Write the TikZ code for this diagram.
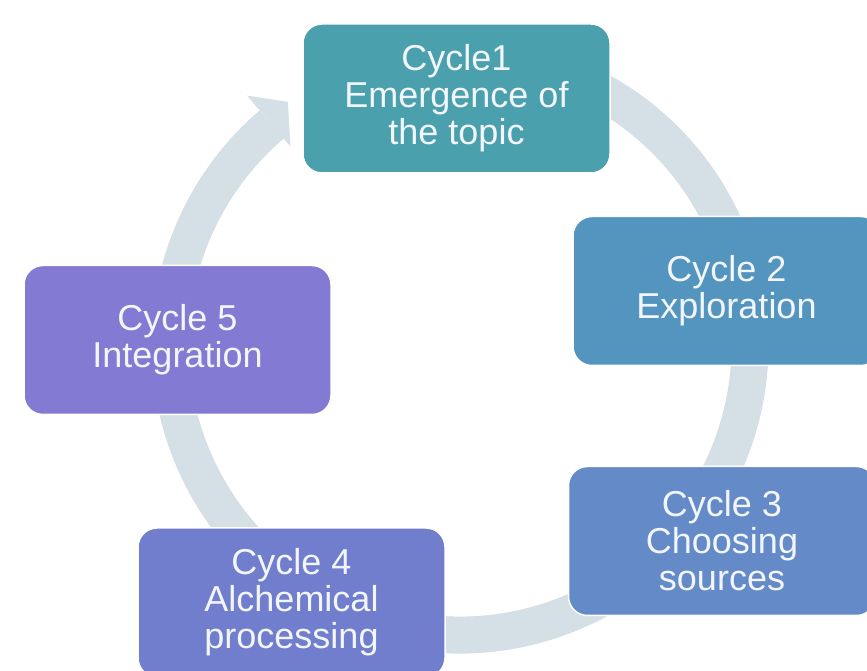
\documentclass[tikz,border=0pt]{standalone}
\usepackage{fontspec}
\setmainfont{Liberation Sans}
\usetikzlibrary{calc}
\definecolor{ringcol}{RGB}{212,224,229}
\definecolor{cA}{RGB}{75,160,173}
\definecolor{cB}{RGB}{83,149,191}
\definecolor{cC}{RGB}{100,138,200}
\definecolor{cD}{RGB}{112,126,205}
\definecolor{cE}{RGB}{131,122,212}
\definecolor{txt}{RGB}{242,246,250}
\tikzset{
  cyclebox/.style={rectangle, rounded corners=19pt, minimum width=307pt, minimum height=149pt,
    inner sep=0pt, align=center, text=txt, draw=white, line width=1.5pt,
    font=\fontsize{36}{37}\selectfont},
  ring/.style={draw=ringcol, line width=37pt, line cap=butt},
  ringhead/.style={fill=ringcol, draw=none}
}
\begin{document}
\begin{tikzpicture}[x=1pt,y=1pt]
\useasboundingbox (0,0) rectangle (867,671);
\clip (0,0) rectangle (867,671);
\coordinate (ctr) at (460,326);
% ring arrow
\draw[ring] ($(ctr)+(110:290)$) arc[start angle=110, end angle=-229.5, radius=290];
\coordinate (hout) at ($(ctr)+(130.5:328)$);
\coordinate (hin) at ($(ctr)+(130.5:261)$);
\coordinate (htip) at ($(ctr)+(125.3:298)$);
\fill[ringhead] (hout) -- (htip) -- (hin) -- cycle;
% boxes
\node[cyclebox, fill=cA] (c1) at (456.5,572.5) {Cycle1\\Emergence of\\the topic};
\node[cyclebox, fill=cB] (c2) at (726.5,380) {Cycle 2\\Exploration};
\node[cyclebox, fill=cC] (c3) at (722,130) {Cycle 3\\Choosing\\sources};
\node[cyclebox, fill=cD] (c4) at (291.5,68.5) {Cycle 4\\Alchemical\\processing};
\node[cyclebox, fill=cE] (c5) at (177.5,331) {Cycle 5\\Integration};
\end{tikzpicture}
\end{document}
